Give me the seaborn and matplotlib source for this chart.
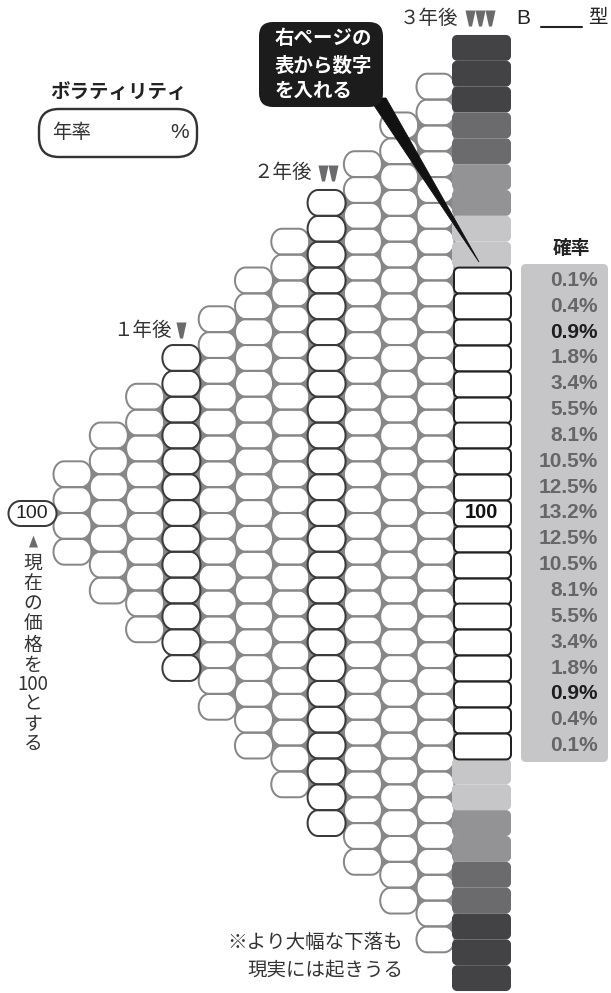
import numpy as np
import pandas as pd
import matplotlib
matplotlib.use("Agg")
import matplotlib.pyplot as plt
import seaborn as sns
from matplotlib.path import Path
from matplotlib.patches import FancyBboxPatch, Polygon

# ---------------- data ----------------
steps = [0, 1, 2, 3, 4, 5, 6, 7, 8, 9, 10, 11, 12]
node_counts = [1, 4, 7, 10, 13, 16, 19, 22, 25, 28, 31, 34, 37]
highlight_steps = [4, 8]
final_bands = (["dark"] * 3 + ["middark"] * 2 + ["mid"] * 2 + ["light"] * 2
               + ["white"] * 19
               + ["light"] * 2 + ["mid"] * 2 + ["middark"] * 2 + ["dark"] * 3)
band_colors = {"dark": "#434345", "middark": "#6b6b6d", "mid": "#939396",
               "light": "#c6c6c8", "white": "#ffffff"}
prob_labels = ["0.1%", "0.4%", "0.9%", "1.8%", "3.4%", "5.5%", "8.1%", "10.5%",
               "12.5%", "13.2%", "12.5%", "10.5%", "8.1%", "5.5%", "3.4%",
               "1.8%", "0.9%", "0.4%", "0.1%"]
prob_emphasis = ["0.9%"]
start_value = "100"
center_value = "100"
vertical_note = ["現", "在", "の", "価", "格", "を", "100", "と", "す", "る"]

# ---------------- layout ----------------
W, H, DPI = 611, 993, 100
X1, DX = 72.5, 36.3          # pixel x of step 1, pixel step spacing
Y0, DY = 513.0, 25.84        # pixel y of level 0, pixel level spacing
PT = 72.0 / DPI


def px_to_step(px):
    return 1 + (px - X1) / DX


def py_to_level(py):
    return (Y0 - py) / DY


def level_to_py(lv):
    return Y0 - lv * DY


def closed(v):
    v = np.vstack([v, v[:1]])
    codes = [Path.MOVETO] + [Path.LINETO] * (len(v) - 2) + [Path.CLOSEPOLY]
    return Path(v, codes)


def ellipse_ended(w, h, rx, n=30):
    ry = h / 2
    c = w / 2 - rx
    t1 = np.linspace(-np.pi / 2, np.pi / 2, n)
    t2 = np.linspace(np.pi / 2, 3 * np.pi / 2, n)
    return closed(np.vstack([np.c_[c + rx * np.cos(t1), ry * np.sin(t1)],
                             np.c_[-c + rx * np.cos(t2), ry * np.sin(t2)]]))


def rrect(w, h, r, n=10):
    pts = []
    for cx, cy, a0 in [(w / 2 - r, -h / 2 + r, -90), (w / 2 - r, h / 2 - r, 0),
                       (-w / 2 + r, h / 2 - r, 90), (-w / 2 + r, -h / 2 + r, 180)]:
        t = np.radians(np.linspace(a0, a0 + 90, n))
        pts.append(np.c_[cx + r * np.cos(t), cy + r * np.sin(t)])
    return closed(np.vstack(pts))


rows = []
for k, n in zip(steps, node_counts):
    for j in range(n):
        rows.append({"step": k, "idx": j, "level": (n - 1) / 2 - j})
nodes = pd.DataFrame(rows)
xpx = {k: X1 + (k - 1) * DX for k in steps}
xpx[0] = 32.0
xpx[12] = 481.5
halfw = {k: 19.0 for k in steps}
halfw[0] = 24.0
halfw[12] = 29.0
nodes["x"] = nodes["step"].map(lambda k: px_to_step(xpx[k]))

inner = nodes[(nodes.step >= 1) & (nodes.step <= 11)]
start = nodes[nodes.step == 0]
final = nodes[nodes.step == 12].copy()
final["band"] = final_bands
final_white = final[final.band == "white"]
final_shade = final[final.band != "white"]

# junction fillers between three touching nodes
RX = 10.5
jrows = []
for k in steps[:-1]:
    a_lv = set(nodes.loc[nodes.step == k, "level"])
    b_lv = set(nodes.loc[nodes.step == k + 1, "level"])
    nb = node_counts[k + 1]
    na = node_counts[k]
    if k + 1 <= 11:   # notch on the left side of column k+1
        for lv in a_lv:
            if abs(lv) < (nb - 1) / 2:
                base = xpx[k] + halfw[k] - 0.5
                apex = xpx[k + 1] - halfw[k + 1] + RX * 0.8
                jrows.append({"x": px_to_step((base + apex) / 2), "level": lv, "dir": "r"})
    if 1 <= k <= 11:  # notch on the right side of column k
        for lv in b_lv:
            if abs(lv) < (na - 1) / 2:
                base = xpx[k + 1] - halfw[k + 1] + 0.5
                apex = xpx[k] + halfw[k] - RX * 0.8
                jrows.append({"x": px_to_step((base + apex) / 2), "level": lv, "dir": "l"})
junctions = pd.DataFrame(jrows)

# ---------------- figure ----------------
sns.set_theme(style="white")
plt.rcParams["font.family"] = ["Noto Sans CJK JP", "DejaVu Sans"]

fig = plt.figure(figsize=(W / DPI, H / DPI), dpi=DPI)
ax = fig.add_axes([0, 0, 1, 1])

OW = 38.0
oval = ellipse_ended(OW, DY, RX)
s_oval = (OW * PT) ** 2
GRAY, DARK = "#878787", "#3a3a3a"
LW = 2 * PT

# white fill for all tree nodes
sns.scatterplot(data=inner, x="x", y="level", marker=oval, s=s_oval,
                color="white", edgecolor="none", linewidth=0, legend=False, ax=ax)
# grey outlines
sns.scatterplot(data=inner[~inner.step.isin(highlight_steps)], x="x", y="level",
                marker=oval, s=s_oval, color=GRAY, facecolor="none",
                edgecolor=GRAY, linewidth=LW, legend=False, ax=ax)
# junction fillers
tri_r = closed(np.array([(-3.8, -4.5), (3.8, 0), (-3.8, 4.5)]))
tri_l = closed(np.array([(3.8, -4.5), (-3.8, 0), (3.8, 4.5)]))
for d, m in [("r", tri_r), ("l", tri_l)]:
    sns.scatterplot(data=junctions[junctions.dir == d], x="x", y="level", marker=m,
                    s=(9 * PT) ** 2, color=GRAY, edgecolor="none", linewidth=0,
                    legend=False, ax=ax)
# dark outlines for 1 and 2 years
sns.scatterplot(data=inner[inner.step.isin(highlight_steps)], x="x", y="level",
                marker=oval, s=s_oval, color=DARK, facecolor="none",
                edgecolor=DARK, linewidth=LW, legend=False, ax=ax)
# start node
sns.scatterplot(data=start, x="x", y="level", marker=ellipse_ended(48, 25, 12),
                s=(48 * PT) ** 2, color="white", edgecolor=DARK, linewidth=LW,
                legend=False, ax=ax)
# final column, shaded bands
sns.scatterplot(data=final_shade, x="x", y="level", hue="band", palette=band_colors,
                marker=rrect(59, DY, 5), s=(59 * PT) ** 2, linewidth=0,
                edgecolor="none", legend=False, ax=ax)
# final column, white boxes
sns.scatterplot(data=final_white, x="x", y="level", marker=rrect(57, DY, 5),
                s=(57 * PT) ** 2, color="white", edgecolor="#222222",
                linewidth=LW, legend=False, ax=ax)

ax.text(px_to_step(xpx[12]), 0, center_value, ha="center", va="center", fontsize=14.5,
        fontweight="bold", family=["Liberation Sans", "DejaVu Sans"], color="#111111")
ax.text(px_to_step(xpx[0]), 0, start_value, ha="center", va="center", fontsize=14,
        family=["Liberation Sans", "DejaVu Sans"], color="#222222")

ax.set_xlim(px_to_step(0), px_to_step(W))
ax.set_ylim(py_to_level(H), py_to_level(0))
ax.axis("off")

# ---------------- annotations (pixel coordinates) ----------------
a2 = fig.add_axes([0, 0, 1, 1], zorder=5)
a2.set_xlim(0, W)
a2.set_ylim(H, 0)
a2.axis("off")
a2.patch.set_alpha(0)

TXT = "#333333"
TRI = "#6b6b6d"
tri_down = Path([(-5, 8), (5, 8), (1.5, -8), (-1.5, -8), (-5, 8)],
                [Path.MOVETO, Path.LINETO, Path.LINETO, Path.LINETO, Path.CLOSEPOLY])
tri_up = Path([(-4.5, -6), (4.5, -6), (0, 6), (-4.5, -6)],
              [Path.MOVETO, Path.LINETO, Path.LINETO, Path.CLOSEPOLY])
TMS = 16 * PT

# probability panel
a2.add_patch(FancyBboxPatch((521, 264), 87, 498, boxstyle="round,pad=0,rounding_size=5",
                            fc="#c6c6c8", ec="none"))
a2.text(572, 248, "確率", ha="center", va="center", fontsize=13.5, fontweight="bold",
        color="#222222")
for lab, lv in zip(prob_labels, np.arange(9, -10, -1)):
    a2.text(598, level_to_py(lv), lab, ha="right", va="center", fontsize=15,
            fontweight="bold", family=["Liberation Sans", "DejaVu Sans"],
            color="#1e1e1e" if lab in prob_emphasis else "#666668")

# step labels with markers above their columns
a2.text(400, 18, "３年後", ha="left", va="center", fontsize=14, color=TXT)
a2.plot([470, 480, 490], [18, 18, 18], ls="none", marker=tri_down, ms=TMS,
        color=TRI, mec="none")
a2.text(254, 173, "２年後", ha="left", va="center", fontsize=14, color=TXT)
a2.plot([323, 333], [173, 173], ls="none", marker=tri_down, ms=TMS, color=TRI, mec="none")
a2.text(113, 330, "１年後", ha="left", va="center", fontsize=14, color=TXT)
a2.plot([181], [330], ls="none", marker=tri_down, ms=TMS, color=TRI, mec="none")

# type label
a2.text(516, 18, "B", ha="left", va="center", fontsize=15, color="#222222",
        family=["Liberation Sans", "DejaVu Sans"])
a2.plot([541, 582], [27, 27], color="#222222", lw=1.5)
a2.text(588, 18, "型", ha="left", va="center", fontsize=14, color="#222222")

# volatility box
a2.text(50, 92, "ボラティリティ", ha="left", va="center", fontsize=14,
        fontweight="bold", color="#222222")
a2.add_patch(FancyBboxPatch((39, 109), 158, 48, boxstyle="round,pad=0,rounding_size=20",
                            fc="white", ec="#333333", lw=2.4 * PT))
a2.text(52, 133, "年率", ha="left", va="center", fontsize=14, color=TXT)
a2.text(189, 133, "%", ha="right", va="center", fontsize=15, color=TXT,
        family=["Liberation Sans", "DejaVu Sans"])

# callout
a2.add_patch(Polygon([(369, 98), (386, 98), (479, 262)], closed=True, fc="#111111",
                     ec="#111111", lw=0.6))
a2.add_patch(FancyBboxPatch((259, 22), 124, 85, boxstyle="round,pad=0,rounding_size=14",
                            fc="#1c1c1c", ec="none"))
for line, yy in zip(["右ページの", "表から数字", "を入れる"], [39, 66, 91]):
    a2.text(275, yy, line, ha="left", va="center", fontsize=14, fontweight="bold",
            color="white")

# start note
a2.plot([33], [541], ls="none", marker=tri_up, ms=12 * PT, color=TRI, mec="none")
for ch, yy in zip(vertical_note, [563, 584, 604, 624, 645, 665, 685, 704, 724, 744]):
    a2.text(33, yy, ch, ha="center", va="center", fontsize=13.5, color=TXT)

# bottom note
a2.text(403, 943, "※より大幅な下落も", ha="right", va="center", fontsize=14, color=TXT)
a2.text(403, 970, "現実には起きうる", ha="right", va="center", fontsize=14, color=TXT)

fig.savefig("out.png", dpi=DPI)
